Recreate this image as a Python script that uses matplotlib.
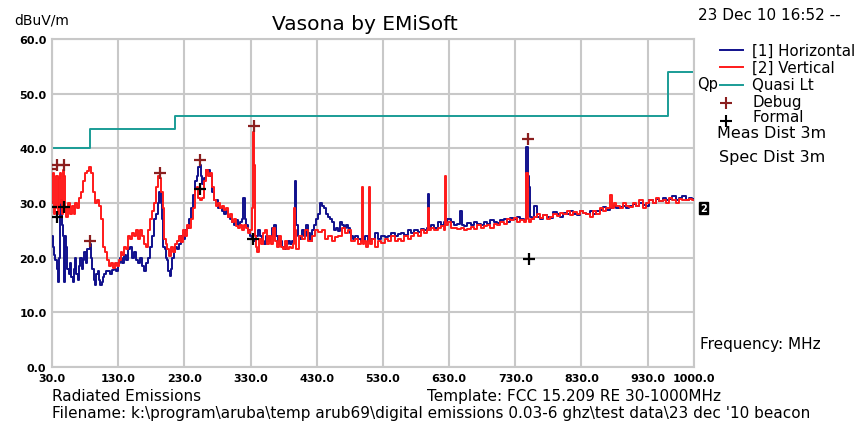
import matplotlib
matplotlib.use('Agg')
import matplotlib.pyplot as plt
from matplotlib.lines import Line2D

# ---- data ----
vert_f = [30, 31, 33, 34, 36, 37, 39, 40, 42, 43, 44, 46, 47, 49, 50, 53, 56, 58, 61, 64, 67, 70, 73, 76,
          79, 82, 85, 88, 90, 93, 96, 99, 102, 105, 108, 111, 114, 117, 120, 123, 126, 129, 132, 135,
          138, 141, 144, 147, 150, 153, 156, 159, 162, 165, 168, 171, 174, 177, 180, 183, 186, 189,
          192, 194, 196, 198, 200, 203, 206, 209, 212, 215, 218, 221, 224, 227, 230, 233, 236, 239,
          242, 245, 248, 250, 252, 255, 258, 261, 264, 267, 270, 273, 276, 279, 282, 285, 288, 291,
          294, 297, 300, 303, 306, 309, 312, 315, 318, 321, 324, 327, 330, 333, 334, 335, 337, 339,
          341, 344, 347, 350, 353, 356, 359, 362, 365, 368, 371, 374, 377, 380, 383, 386, 389, 392,
          395, 397, 398, 400, 405, 410, 415, 420, 425, 430, 435, 440, 445, 450, 455, 460, 465, 470,
          475, 480, 485, 490, 495, 498, 499, 500, 503, 506, 509, 510, 511, 515, 520, 525, 530, 535,
          540, 545, 550, 555, 560, 565, 570, 575, 580, 585, 590, 595, 598, 599, 601, 605, 610, 615,
          620, 624, 625, 626, 630, 635, 640, 645, 650, 655, 660, 665, 670, 675, 680, 685, 690, 695,
          700, 705, 710, 715, 720, 725, 730, 735, 740, 745, 748, 750, 752, 755, 760, 765, 770, 775,
          780, 785, 790, 795, 800, 805, 810, 815, 820, 825, 830, 835, 840, 845, 850, 855, 860, 865,
          870, 875, 877, 880, 885, 890, 895, 900, 905, 910, 915, 920, 925, 930, 935, 940, 945, 950,
          955, 960, 965, 970, 975, 980, 985, 990, 995, 1000]
vert_db = [30, 35, 35.5, 28, 29, 35, 35, 28, 34.5, 35.5, 30, 28, 36, 35, 29, 27.5, 30, 28, 29.5, 28, 30, 29,
           31, 32, 34, 35.5, 35.8, 36.5, 35.5, 32, 30, 30.5, 29.5, 27, 22, 21, 19.5, 18.5, 19, 18.2, 19,
           18.5, 19.5, 21, 20.5, 22, 21.5, 24, 23.5, 24.5, 24, 25, 23.5, 25, 24, 22.5, 22, 25, 27, 28.5,
           30, 33, 35, 34.5, 32, 29, 23.5, 22.5, 21.5, 20.3, 22, 21, 22.5, 23, 24, 22.8, 25, 24, 26,
           25.5, 27, 29, 32.5, 33, 31, 30.5, 31, 34, 36, 35, 35.5, 33, 30.5, 29.5, 30, 29, 29.5, 28.8,
           29, 27.5, 28, 26.5, 27, 25.8, 25.5, 26, 25, 26, 25.5, 24.5, 25, 29, 43, 37, 24, 22, 21,
           23.5, 22.5, 24.5, 25, 22.5, 24, 22.5, 25.5, 23, 22, 24, 22, 21.5, 23, 21.5, 22, 21.8,
           22.5, 29, 25, 21.5, 24, 23.5, 25, 23, 24, 25, 24.7, 25, 23.5, 24, 23, 23.7, 24, 25.5,
           24.5, 25, 23, 23.5, 22.5, 23, 33, 22.5, 23, 22, 23, 33, 22.5, 23.5, 22, 23, 22.7, 23.5,
           23, 24, 23, 23.5, 23, 24, 23.5, 24, 24.5, 24, 25, 24.5, 25, 29, 25, 25.5, 25, 25.5,
           25.8, 25, 35, 26, 26.5, 25.5, 25.5, 25.2, 25.5, 25, 25.3, 25.7, 25.2, 26, 25.5, 25.8, 26, 25.5,
           26.2, 26, 26.5, 26.2, 27, 26.8, 27.2, 26.5, 26.8, 26.5, 35.5, 27, 26.5, 27, 27.5, 28, 27.2, 27.8,
           27, 27.5, 28, 27.6, 28.2, 28, 28.5, 27.8, 28.3, 28, 28.5, 28.2, 28, 27.5, 28.5, 28, 29, 28.5,
           29, 31.5, 29, 30, 29.5, 29, 30, 29.5, 29.2, 30, 29.5, 30.5, 29, 30, 30.5, 30, 31, 30.3,
           30.5, 30, 31, 30.5, 30, 30.8, 30.5, 30.5, 30.8, 30.5]

horiz_f = [30, 32, 34, 36, 38, 40, 41, 42, 43, 44, 45, 46, 47, 48, 49, 50, 52, 54, 56, 58, 60, 62, 64, 66,
           68, 70, 72, 74, 76, 78, 80, 82, 84, 86, 88, 90, 92, 94, 96, 98, 100, 102, 104, 106, 108, 110,
           113, 116, 119, 122, 125, 128, 131, 134, 137, 140, 143, 146, 149, 152, 155, 158, 161, 164, 167,
           170, 173, 176, 179, 182, 185, 188, 191, 193, 195, 197, 199, 201, 203, 205, 207, 209, 211, 213,
           215, 218, 221, 224, 227, 230, 233, 236, 239, 242, 245, 248, 250, 252, 254, 256, 258, 261, 264,
           267, 270, 273, 276, 279, 282, 285, 288, 291, 294, 297, 300, 303, 306, 309, 312, 315, 318, 320,
           322, 325, 328, 331, 334, 337, 340, 343, 346, 349, 352, 355, 358, 361, 364, 367, 370, 373, 376,
           379, 382, 385, 388, 391, 394, 396, 398, 400, 403, 406, 409, 412, 415, 418, 421, 424, 427, 430,
           433, 436, 439, 442, 445, 448, 451, 454, 457, 460, 463, 466, 469, 472, 475, 478, 481, 484, 487,
           490, 495, 500, 505, 510, 515, 520, 525, 530, 535, 540, 545, 550, 555, 560, 565, 570, 575, 580,
           585, 590, 595, 598, 599, 600, 605, 610, 615, 620, 625, 630, 635, 640, 645, 648, 650, 655, 660,
           665, 670, 675, 680, 685, 690, 695, 700, 705, 710, 715, 720, 725, 730, 735, 740, 745, 748, 749,
           751, 753, 756, 761, 764, 770, 775, 780, 785, 790, 795, 800, 805, 810, 815, 820, 825, 830, 835,
           840, 845, 850, 855, 860, 865, 870, 875, 880, 885, 890, 895, 900, 905, 910, 915, 920, 925, 930,
           935, 940, 945, 950, 955, 960, 965, 970, 975, 980, 985, 990, 995, 1000]
horiz_db = [24, 22, 20.5, 19.5, 18, 15.5, 20, 21, 28, 30.5, 29.5, 26, 24, 17, 15.5, 24, 22, 18, 17, 19, 16.5,
            15.5, 18, 20, 17, 16, 18.5, 20, 18, 19.5, 21, 19, 21.5, 21.5, 22.5, 20, 18, 16, 15, 17, 17.5,
            16, 15, 15.5, 16.5, 17, 17.5, 17.5, 17, 17.8, 18, 17.5, 19, 20, 19, 20.5, 19.5, 21.5, 22, 20,
            21, 19.5, 19, 20, 18.5, 17.5, 19, 20, 22, 24, 27, 28, 30, 32, 30, 27, 22, 21.5, 20, 19.5,
            17.5, 16.7, 18, 20, 21, 22, 21.5, 22.5, 24, 23.5, 25, 25.5, 27, 29, 31.5, 34, 35, 36.5, 37,
            35, 33.5, 34.5, 36, 36, 35, 32, 30.5, 30.5, 29, 29, 28.5, 28, 28.5, 27.5, 27, 26.5, 26, 26.8,
            26, 26.5, 27, 31, 27, 26, 25, 24, 23.5, 23, 24, 25, 24, 23, 22.5, 24, 23, 24, 25.5, 26, 24,
            22.5, 23, 22, 21.5, 22.5, 23, 22.5, 23, 26, 34, 26, 24, 23.5, 25, 24, 26, 24.5, 23, 25, 26,
            27, 28, 30, 29.5, 29, 28, 27.5, 27, 26.5, 25, 25.5, 24.8, 26.5, 26, 25.5, 26, 25.5, 24.5, 24,
            23.5, 24, 23.5, 23, 24, 23, 23.5, 24.5, 23.5, 24, 23.8, 24, 24.5, 24, 24.3, 24.5, 24.2, 25,
            24.5, 25, 24.7, 25.2, 25, 25.5, 31.6, 25.5, 26, 25.5, 26.5, 26, 26.5, 27, 26.5, 26, 26.2,
            28.5, 26, 25.8, 26.3, 26, 26.5, 26.2, 26, 26.5, 26.2, 26.8, 26.5, 26.3, 26.8, 27, 26.5, 27.2,
            27, 27.5, 27, 26.8, 40.2, 35, 33, 27.5, 27, 29.4, 27.5, 27, 27.8, 27.5, 27.3, 28.3, 28, 27.5,
            28.2, 28, 28.5, 28, 27.8, 28.5, 28.2, 28, 28.5, 28, 28.5, 28.8, 29.2, 28.7, 29, 29.5, 29,
            29.3, 29.5, 29, 29.5, 29.8, 29.5, 30, 29.7, 29.5, 30.5, 30, 30.7, 30.3, 31, 30.5, 30.8, 31.2,
            30.5, 31, 31.2, 30.6, 31, 30.7]

limit_f = [30, 88, 88, 216, 216, 960, 960, 1000]
limit_db = [40, 40, 43.5, 43.5, 46, 46, 54, 54]

debug_f = [29, 37, 48, 87, 193, 253, 335, 749]
debug_db = [36.3, 37, 37, 23, 35.5, 37.8, 44, 41.7]
formal_f = [28, 37, 48, 253, 334, 750]
formal_db = [29.3, 27.4, 29.3, 32.5, 23.4, 19.7]

xticks = [30, 130, 230, 330, 430, 530, 630, 730, 830, 930, 1000]
yticks = [0, 10, 20, 30, 40, 50, 60]

BLUE = '#10108c'
RED = '#ff1a1a'
TEAL = '#1a9c96'
DKRED = '#8b1f1f'
GRID = '#c8c8c8'

fig = plt.figure(figsize=(8.59, 4.27), dpi=100)
W, H = 859, 427
ax = fig.add_axes([52 / W, 1 - 368 / H, (694 - 52) / W, (368 - 40) / H])

ax.plot(horiz_f, horiz_db, color=BLUE, lw=1.4, drawstyle='steps-mid', zorder=3)
ax.plot(vert_f, vert_db, color=RED, lw=1.4, drawstyle='steps-mid', zorder=4)
ax.plot(limit_f, limit_db, color=TEAL, lw=1.4, zorder=2)
ax.plot(debug_f, debug_db, '+', color=DKRED, ms=9, mew=1.6, zorder=5)
ax.plot(formal_f, formal_db, '+', color='black', ms=9, mew=1.6, zorder=5)

ax.set_xlim(30, 1000)
ax.set_ylim(0, 60)
ax.set_xticks(xticks)
ax.set_yticks(yticks)
ax.set_xticklabels(['%.1f' % t for t in xticks], fontsize=8, fontweight='bold')
ax.set_yticklabels(['%.1f' % t for t in yticks], fontsize=8, fontweight='bold')
ax.tick_params(length=0, pad=4)
ax.grid(True, color=GRID, lw=1.5)
for s in ax.spines.values():
    s.set_color(GRID)
    s.set_linewidth(1.5)
ax.set_axisbelow(True)

def fx(px):
    return px / W

def fy(py):
    return 1 - py / H

fig.text(fx(365), fy(25), 'Vasona by EMiSoft', fontsize=14.5, ha='center', va='center')
fig.text(fx(14), fy(20), 'dBuV/m', fontsize=10, va='center')
fig.text(fx(698), fy(16), '23 Dec 10 16:52 --', fontsize=11, va='center')

# legend drawn by hand on the right
leg = [('[1] Horizontal', BLUE, 51), ('[2] Vertical', RED, 68), ('Quasi Lt', TEAL, 86)]
for name, c, py in leg:
    fig.add_artist(Line2D([fx(720), fx(743)], [fy(py), fy(py)], color=c, lw=1.4))
    fig.text(fx(752), fy(py), name, fontsize=10.8, va='center')
fig.text(fx(697), fy(85), 'Qp', fontsize=10.5, va='center')
fig.text(fx(752), fy(102), 'Debug', fontsize=10.8, va='center')
fig.text(fx(752), fy(117), 'Formal', fontsize=10.8, va='center')
fig.add_artist(Line2D([fx(726)], [fy(104)], marker='+', color=DKRED, ms=8, mew=1.5))
fig.add_artist(Line2D([fx(726)], [fy(122)], marker='+', color='black', ms=8, mew=1.5))
fig.text(fx(717), fy(134), 'Meas Dist 3m', fontsize=11.5, va='center')
fig.text(fx(719), fy(158), 'Spec Dist 3m', fontsize=11.5, va='center')
fig.text(fx(700), fy(345), 'Frequency: MHz', fontsize=11, va='center')
fig.text(fx(700), fy(209), '2', fontsize=7, va='center', color='white', fontweight='bold',
         bbox=dict(facecolor='black', edgecolor='black', pad=1))

fig.text(fx(52), fy(397), 'Radiated Emissions', fontsize=11, va='center')
fig.text(fx(427), fy(397), 'Template: FCC 15.209 RE 30-1000MHz', fontsize=11, va='center')
fig.text(fx(52), fy(414), "Filename: k:\\program\\aruba\\temp arub69\\digital emissions 0.03-6 ghz\\test data\\23 dec '10 beacon",
         fontsize=11, va='center')

fig.savefig('out.png', dpi=100)
